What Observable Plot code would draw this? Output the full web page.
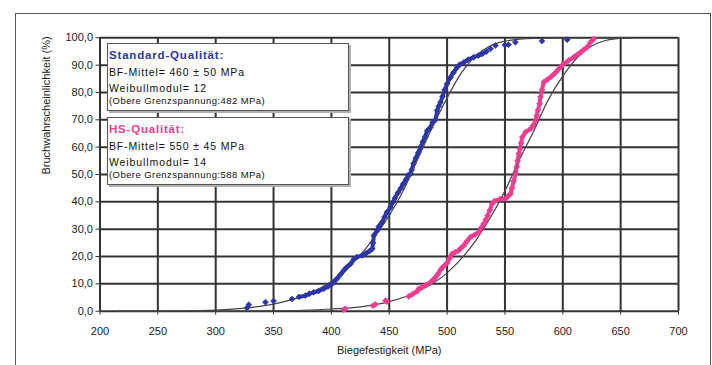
<!DOCTYPE html>
<html><head><meta charset="utf-8">
<script src="https://cdn.jsdelivr.net/npm/d3@7"></script>
<script src="https://cdn.jsdelivr.net/npm/@observablehq/plot@0.6"></script>
<style>
body{margin:0;background:#fff;font-family:"Liberation Sans",Arial,sans-serif;}
#wrap{position:relative;width:712px;height:365px;overflow:hidden;background:#fff;}
#wrap svg{position:absolute;left:0;top:0;}
#frame{position:absolute;left:15px;top:13px;width:694px;height:400px;border:1.5px solid #555;border-bottom:none;}
.box{position:absolute;left:107px;width:240px;height:66px;background:#fff;border:1px solid #555;box-shadow:2px 2px 0 #b0b0b0;}
.ln{position:absolute;left:1px;white-space:nowrap;color:#111;font-size:10.5px;line-height:12px;}
.ln.t{font-weight:bold;font-size:11.5px;}
.ln.s{font-size:9.5px;}
</style></head>
<body>
<div id="wrap"><div id="frame"></div></div>
<script>
// ---- data ----
const xTicks = [200, 250, 300, 350, 400, 450, 500, 550, 600, 650, 700];
const yTicks = [0, 10, 20, 30, 40, 50, 60, 70, 80, 90, 100];

const standardX = [327,328.6,343,350,366,372,377.6,381,384.8,389,393.4,397,400,402,405,408,410.7,413,416.5,419.4,422,426.6,430,433,435.3,436,436.7,439.6,441,443.9,446,448,451.1,453,455,457.5,460,462,464.5,466.5,468.4,469.5,471,473,475,477,479,481,482.8,485.6,487.5,490,491.4,492.8,494.3,496,498,500,503,505.5,508.7,511,514.4,518,523,527,530.3,534,537.5,541.8,550,553,559,582,603.8];
const standardY = [1.2,2.4,3.3,3.7,4.5,5.2,5.7,6.4,6.9,7.4,8.2,9.0,9.8,10.6,12.0,13.5,14.9,16.0,17.3,19.0,19.8,20.4,21.2,22.0,22.8,25,27.7,29.5,31,32.6,34.5,36.2,38,39.8,41.5,43.3,45,46.5,48.2,49.8,50.2,51.8,54,56,58,60,62,63.8,66,67.3,69,70,73.4,75,76.4,78.5,81,83.2,85.6,87.3,89.2,90.2,91,92,92.9,93.5,94.1,95,96,97.2,97.4,97.5,98.4,98.8,99.3];

const hsX = [410.7,412,436,438.1,446.8,448,466.9,470,474.2,475.5,479,482,485.6,488,490,492,494.3,496,498,500,502,504.4,507,510,512,514.4,517,520.2,524,527.4,529.5,531.7,533.5,535,537,539,541,546.1,550.5,552.5,554.8,556,557.5,559.1,560.2,561,562,563,564,564.9,567.8,572.1,574.5,576.4,577.5,578.5,580,580.7,582,583.6,586.5,589.4,592.5,595.2,598,600.9,605,609.5,612.5,615.3,618,621.1,624,626.8];
const hsY = [0.5,0.9,2.0,2.5,3.9,3.5,5.4,6.2,7.3,8.2,9.0,9.6,10.6,11.5,12.4,13.6,15.1,16.0,16.8,17.6,19.2,21,21.6,22.2,23.1,24,25.5,27.1,28,28.9,30.5,32,33.5,35,37,39.3,40.3,41.1,41.1,42,42.9,45,47.5,50.3,52.8,55,57.6,59.5,61.5,63.6,65.5,66.7,68,69.7,71.5,73.5,75.9,78.3,81,83.8,84.7,85.6,86.8,88,89.3,90.5,91.7,92.9,93.8,94.7,95.6,96.6,98.4,99.6];

const standardFitX = [215,250,275,300,325,350,375,400,412,425,437,450,462,475,487,500,512,525,537,550,575,600,650,660];
const standardFitY = [0,0.05,0.15,0.4,1.1,2.6,5.5,11,15,20.5,27,35,44,56,67,78,87,93.5,97,98.8,99.8,100,100,100];
const hsFitX = [280,325,350,375,400,425,450,475,500,525,537,550,562,575,587,600,612,625,637,650,660];
const hsFitY = [0,0.05,0.15,0.35,0.8,1.6,3.5,7.2,14,26,34,44,55,66,77,86,92.5,97,99,99.8,100];

const legendTitles = ["Standard-Qualität:", "HS-Qualität:"];
const legendMean = ["BF-Mittel= 460 ± 50 MPa", "BF-Mittel= 550 ± 45 MPa"];
const legendModulus = ["Weibullmodul= 12", "Weibullmodul= 14"];
const legendLimit = ["(Obere Grenzspannung:482 MPa)", "(Obere Grenzspannung:588 MPa)"];

const xLabel = "Biegefestigkeit (MPa)";
const yLabel = "Bruchwahrscheinlichkeit (%)";

// ---- build ----
const BLUE = "#2d36a6", PINK = "#ef3d91", GRID = "#333";
const pts = (xs, ys) => xs.map((x, i) => ({x, y: ys[i]}));
const std = pts(standardX, standardY), hs = pts(hsX, hsY);
const stdFit = pts(standardFitX, standardFitY), hsFit = pts(hsFitX, hsFitY);
const fmt = d => d.toFixed(1).replace(".", ",");

const chart = Plot.plot({
  width: 712, height: 365,
  marginLeft: 99.5, marginRight: 34, marginTop: 37.3, marginBottom: 54.3,
  style: {fontFamily: '"Liberation Sans", Arial, sans-serif', fontSize: "11px", color: "#222", background: "transparent"},
  x: {domain: [200, 700]},
  y: {domain: [0, 100]},
  marks: [
    Plot.gridX(xTicks, {stroke: GRID, strokeOpacity: 1, strokeWidth: 2}),
    Plot.gridY(yTicks, {stroke: GRID, strokeOpacity: 1, strokeWidth: 2}),
    Plot.axisX(xTicks, {tickSize: 4, tickPadding: 12, label: null, fontSize: 11, stroke: GRID}),
    Plot.axisY(yTicks, {tickSize: 4, tickPadding: 3, label: null, tickFormat: fmt, fontSize: 11, stroke: GRID}),
    Plot.text([xLabel], {frameAnchor: "bottom", dy: 43, fontSize: 11, text: d => d, fill: "#222"}),
    Plot.text([yLabel], {frameAnchor: "left", dx: -54, rotate: -90, fontSize: 11, text: d => d, fill: "#222"}),
    Plot.line(stdFit, {x: "x", y: "y", stroke: "#444", strokeWidth: 1.2, curve: "monotone-x"}),
    Plot.line(hsFit, {x: "x", y: "y", stroke: "#444", strokeWidth: 1.2, curve: "monotone-x"}),
    Plot.line(std.filter(d => d.x >= 372 && d.y <= 95), {x: "x", y: "y", stroke: BLUE, strokeWidth: 4}),
    Plot.line(hs.filter(d => d.x >= 466), {x: "x", y: "y", stroke: PINK, strokeWidth: 4}),
    Plot.dot(std, {x: "x", y: "y", symbol: "diamond2", r: 2.7, fill: BLUE, stroke: BLUE, strokeWidth: 0.6}),
    Plot.dot(hs, {x: "x", y: "y", symbol: "diamond2", r: 2.7, fill: PINK, stroke: PINK, strokeWidth: 0.6}),
    Plot.line(stdFit.filter(d => d.y > 40 && d.y < 97), {x: "x", y: "y", stroke: "#555", strokeWidth: 0.8, curve: "monotone-x", strokeOpacity: 0.7}),
    Plot.line(hsFit.filter(d => d.y > 30 && d.y < 97), {x: "x", y: "y", stroke: "#555", strokeWidth: 0.8, curve: "monotone-x", strokeOpacity: 0.7})
  ]
});
const wrap = document.getElementById("wrap");
wrap.insertBefore(chart, wrap.firstChild);

// legend boxes
const boxTops = [43, 117];
const colors = [BLUE, PINK];
const targetWidths = [[115, 136, 98, 156], [76, 136, 98, 156]];
legendTitles.forEach((t, i) => {
  const b = document.createElement("div");
  b.className = "box";
  b.style.top = boxTops[i] + "px";
  wrap.appendChild(b);
  const lines = [[t, "t", 5], [legendMean[i], "", 22], [legendModulus[i], "", 38], [legendLimit[i], "s", 51]];
  lines.forEach(([txt, cls, top], j) => {
    const l = document.createElement("div");
    l.className = "ln " + cls;
    l.style.top = top + "px";
    l.textContent = txt;
    if (j === 0) l.style.color = colors[i];
    b.appendChild(l);
    const w = l.getBoundingClientRect().width;
    const ls = (targetWidths[i][j] - w) / txt.length;
    l.style.letterSpacing = ls.toFixed(2) + "px";
  });
});
</script>
</body></html>
